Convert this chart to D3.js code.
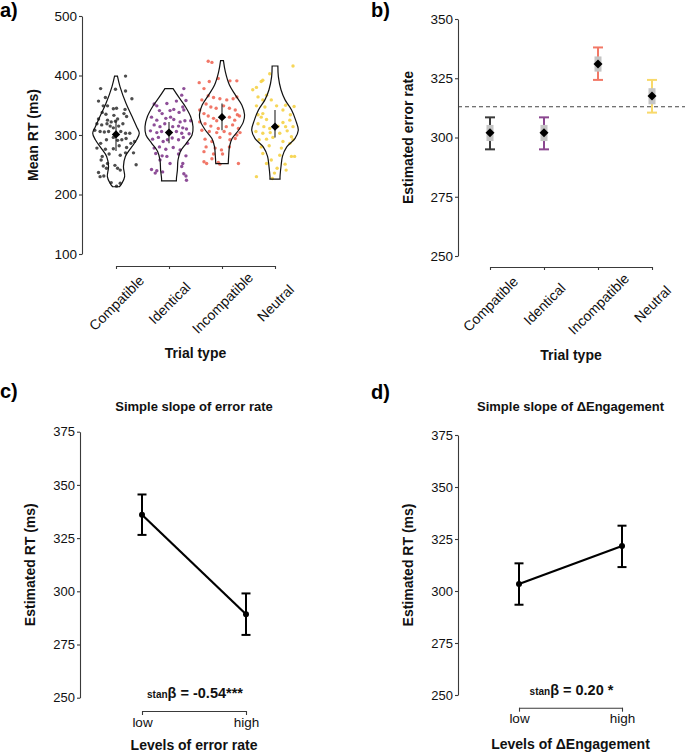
<!DOCTYPE html>
<html><head><meta charset="utf-8">
<script src="https://cdn.jsdelivr.net/npm/d3@7"></script>
<style>
html,body{margin:0;padding:0;background:#fff;}
svg{display:block;font-family:"Liberation Sans",Arial,Helvetica,sans-serif;}
</style></head>
<body>
<svg id="chart" width="685" height="755"></svg>
<script>
// ---------- DATA ----------
const categories = ["Compatible","Identical","Incompatible","Neutral"];

// Panel a: individual mean RTs (ms) with horizontal jitter (category units)
const compatibleRT = [399,378,363,357,377,374,349,349,344,345,338,335,333,327,325,322,323,327,336,361,343,331,319,317,319,315,312,315,319,308,306,305,306,306,303,303,286,292,296,291,292,294,286,289,278,276,277,282,279,264,268,266,270,270,258,252,248,249,244,250,244,237,230,231,241,220,214,219];
const compatibleJitter = [0.18,-0.29,-0.20,-0.33,-0.01,0.18,-0.24,-0.16,-0.05,0.01,-0.26,-0.19,-0.04,-0.33,-0.16,-0.09,-0.01,0.03,0.15,0.30,0.17,0.20,-0.36,-0.27,-0.17,-0.11,-0.05,0.05,0.13,-0.40,-0.30,-0.22,-0.14,0.09,0.18,0.26,-0.29,-0.18,-0.05,0.03,0.11,0.19,0.28,0.35,-0.36,-0.20,-0.05,0.06,0.20,-0.26,-0.13,0.08,0.18,0.33,-0.28,-0.16,-0.24,-0.02,-0.18,0.38,0.03,-0.33,-0.30,-0.23,0.08,-0.09,0.01,0.08];
const identicalRT = [378,367,352,349,353,357,358,347,341,336,341,343,338,342,330,325,328,330,326,322,324,324,317,314,319,314,315,312,310,307,304,306,306,303,302,293,296,289,292,295,292,296,286,278,280,276,279,275,269,265,264,268,265,258,252,252,242,236,240,238,247,235,224,231];
const identicalJitter = [0.28,0.24,-0.28,-0.23,-0.04,0.14,0.32,0.26,-0.18,-0.13,0.02,0.09,0.19,0.28,-0.33,-0.23,-0.06,0.03,0.09,0.21,0.30,0.41,-0.28,-0.17,-0.08,0.07,0.18,0.26,0.33,-0.35,-0.23,-0.14,0.14,0.24,0.38,-0.31,-0.20,-0.11,-0.03,0.06,0.18,0.27,0.35,-0.28,-0.18,-0.06,0.08,0.21,-0.25,-0.13,-0.04,0.18,0.32,-0.17,0.02,0.26,-0.33,-0.26,-0.23,-0.12,0.24,0.28,0.33,0.32];
const incompatibleRT = [424,422,390,395,391,391,388,378,366,363,361,359,361,364,359,352,347,345,349,345,342,334,342,336,332,328,324,330,325,332,322,319,315,311,314,317,311,308,306,304,306,302,300,304,293,289,296,292,294,280,278,275,280,272,268,268,255,260,254,251,252,252];
const incompatibleJitter = [-0.26,-0.19,-0.24,-0.07,0.15,0.28,-0.43,-0.34,-0.26,-0.16,-0.04,0.09,0.21,0.28,-0.38,-0.30,-0.21,-0.11,0.03,0.14,0.25,0.29,-0.42,-0.34,-0.26,-0.16,-0.10,0.14,0.24,0.33,-0.42,-0.32,-0.21,-0.07,0.08,0.20,0.31,-0.38,-0.24,-0.10,0.04,0.15,0.28,0.34,-0.32,-0.19,-0.04,0.15,0.25,-0.30,-0.13,-0.01,0.14,-0.34,-0.16,0.01,-0.34,-0.19,-0.07,-0.04,0.31,-0.29];
const neutralRT = [416,403,392,380,390,376,367,364,359,359,349,347,349,350,348,342,336,334,334,330,326,325,321,319,314,311,315,314,314,306,303,304,303,307,297,292,293,296,289,286,292,280,282,278,264,264,269,252,258,266,251,230,236,227,244,241];
const neutralJitter = [0.34,-0.10,-0.23,-0.35,-0.26,-0.42,-0.16,-0.32,-0.23,-0.07,-0.35,-0.19,0.03,0.20,0.36,0.15,-0.23,0.29,-0.32,-0.26,-0.16,0.28,0.15,-0.32,-0.21,-0.10,0.06,0.20,0.34,-0.36,-0.23,-0.09,0.09,0.23,0.31,-0.30,-0.16,-0.04,0.15,0.28,0.34,-0.26,-0.11,0.12,0.31,0.37,-0.23,-0.16,-0.07,0.09,0.19,-0.35,-0.01,-0.05,0.04,0.21];

// Panel a: violin outlines [RT, relative density]
const compatibleDensity = [[213,0.14],[219,0.25],[230,0.36],[247,0.31],[264,0.39],[278,0.62],[292,0.86],[303,0.97],[314,0.86],[331,0.67],[353,0.42],[381,0.17],[399,0.06]];
const identicalDensity = [[223,0.31],[227,0.31],[241,0.35],[258,0.375],[272,0.47],[286,0.72],[300,0.96],[314,1.0],[331,0.9],[348,0.68],[364,0.4],[378,0.17]];
const incompatibleDensity = [[252,0.26],[266,0.28],[280,0.31],[294,0.42],[308,0.69],[322,0.89],[334,0.94],[350,0.83],[367,0.56],[384,0.31],[406,0.14],[425,0.06]];
const neutralDensity = [[226,0.21],[230,0.21],[247,0.25],[264,0.31],[280,0.49],[294,0.83],[308,0.97],[325,0.86],[342,0.69],[359,0.42],[376,0.25],[398,0.14],[416,0.12]];

// Panel a: summary (mean and interval)
const rtMean = [301,304,330,314];
const rtLow = [273,286,308,296];
const rtHigh = [325,322,353,342];

// Panel b: estimated values per trial type
const errMean = [302,302,331,317.5];
const errCILow = [295,295,324.3,310.5];
const errCIHigh = [308.5,308.5,338,324.3];
const errSELow = [298.5,298.5,327.8,314];
const errSEHigh = [305.3,305.3,334.2,320.8];
const errReference = 313;

// Panels c and d
const levels = ["low","high"];
const slopeErrMean = [336,289.2];
const slopeErrLow = [326.5,279.5];
const slopeErrHigh = [345.5,299];
const slopeEngMean = [303.4,321.6];
const slopeEngLow = [293.4,311.5];
const slopeEngHigh = [313.3,331.4];

const yTicksA = [100,200,300,400,500];
const yTicksB = [250,275,300,325,350];
const yTicksCD = [250,275,300,325,350,375];

// ---------- STYLE ----------
const pointColors = ["#2e2e2e","#7a2f86","#ee5f4e","#f5cf3c"];
const barColors = ["#3a3a3a","#8b4790","#f27866","#f8d96b"];
const FONT = '"Liberation Sans",Arial,Helvetica,sans-serif';

const svg = d3.select("#chart");

function styleAxis(g, fs){
  g.select(".domain").attr("stroke","#3a3a3a").attr("stroke-width",1.1);
  g.selectAll(".tick line").attr("stroke","#3a3a3a").attr("stroke-width",1.1);
  g.selectAll(".tick text").attr("fill","#111").style("font-size",fs+"px").style("font-family",FONT);
}
function yAxis(scale, x, ticks, fs){
  const g = svg.append("g").attr("transform",`translate(${x},0)`)
    .call(d3.axisLeft(scale).tickValues(ticks).tickSize(3).tickSizeOuter(0).tickPadding(2));
  styleAxis(g, fs);
  return g;
}
function xAxisRot(scale, y, fs){
  const g = svg.append("g").attr("transform",`translate(0,${y})`)
    .call(d3.axisBottom(scale).tickSize(3).tickSizeOuter(0));
  styleAxis(g, fs);
  g.selectAll(".tick text").attr("y",0).attr("dy",0)
    .attr("text-anchor","middle").attr("dominant-baseline","central")
    .attr("transform","translate(0,37) rotate(-45)");
  return g;
}
function xAxisPlain(scale, y, fs){
  const g = svg.append("g").attr("transform",`translate(0,${y})`)
    .call(d3.axisBottom(scale).tickSize(4).tickSizeOuter(0));
  styleAxis(g, fs);
  g.selectAll(".tick text").attr("y",0).attr("dy",0)
    .attr("dominant-baseline","central").attr("transform","translate(0,11)");
  return g;
}
function label(x,y,txt,fs,rot){
  svg.append("text").attr("x",0).attr("y",0)
    .attr("transform",`translate(${x},${y})`+(rot?` rotate(${rot})`:""))
    .attr("text-anchor","middle").attr("dominant-baseline","central")
    .style("font-size",fs+"px").style("font-weight","bold").style("font-family",FONT)
    .attr("fill","#111").text(txt);
}
function panelLabel(x,y,txt){
  svg.append("text").attr("x",x).attr("y",y).style("font-size","20px").style("font-weight","bold")
    .style("font-family",FONT).attr("fill","#000").text(txt);
}
function diamond(g, cx, cy, r){
  g.append("path").attr("d",`M0,${-r}L${r},0L0,${r}L${-r},0Z`).attr("transform",`translate(${cx},${cy})`).attr("fill","#000");
}

// ---------- PANEL A ----------
const xa = d3.scalePoint().domain(categories).range([116,275]);
const ya = d3.scaleLinear().domain([100,500]).range([254,16]);
const stepA = xa.step();
const rtSets = [compatibleRT, identicalRT, incompatibleRT, neutralRT];
const jitSets = [compatibleJitter, identicalJitter, incompatibleJitter, neutralJitter];
const densSets = [compatibleDensity, identicalDensity, incompatibleDensity, neutralDensity];
const violinHalf = 24;
const ga = svg.append("g");
categories.forEach((c,i)=>{
  const cx = xa(c);
  const pts = rtSets[i].map((v,k)=>({v, j:jitSets[i][k]}));
  ga.append("g").selectAll("circle").data(pts).join("circle")
    .attr("cx",d=>cx + d.j*stepA).attr("cy",d=>ya(d.v)).attr("r",1.7)
    .attr("fill",pointColors[i]).attr("fill-opacity",0.85);
});
categories.forEach((c,i)=>{
  const cx = xa(c);
  const area = d3.area().curve(d3.curveCatmullRom.alpha(0.5))
    .y(d=>ya(d[0])).x0(d=>cx - violinHalf*d[1]).x1(d=>cx + violinHalf*d[1]);
  ga.append("path").attr("d",area(densSets[i])).attr("fill","none").attr("stroke","#111").attr("stroke-width",1.2);
  ga.append("line").attr("x1",cx).attr("x2",cx).attr("y1",ya(rtLow[i])).attr("y2",ya(rtHigh[i]))
    .attr("stroke","#222").attr("stroke-width",1.1);
  diamond(ga, cx, ya(rtMean[i]), 4.2);
});
yAxis(ya, 82, yTicksA, 13.5);
xAxisRot(xa, 266, 14);
label(33, 135, "Mean RT (ms)", 14, -90);
label(195.5, 353, "Trial type", 14);
panelLabel(0, 17, "a)");

// ---------- PANEL B ----------
const xb = d3.scalePoint().domain(categories).range([490,652]);
const yb = d3.scaleLinear().domain([250,350]).range([256,19]);
const gb = svg.append("g");
gb.append("line").attr("x1",458).attr("x2",685).attr("y1",yb(errReference)).attr("y2",yb(errReference))
  .attr("stroke","#444").attr("stroke-width",1.1).attr("stroke-dasharray","4,3");
categories.forEach((c,i)=>{
  const cx = xb(c);
  const col = barColors[i];
  gb.append("line").attr("x1",cx).attr("x2",cx).attr("y1",yb(errCILow[i])).attr("y2",yb(errCIHigh[i])).attr("stroke",col).attr("stroke-width",2);
  [errCILow[i],errCIHigh[i]].forEach(v=>{
    gb.append("line").attr("x1",cx-5).attr("x2",cx+5).attr("y1",yb(v)).attr("y2",yb(v)).attr("stroke",col).attr("stroke-width",2);
  });
  gb.append("rect").attr("x",cx-3.5).attr("width",7).attr("y",yb(errSEHigh[i]))
    .attr("height",yb(errSELow[i])-yb(errSEHigh[i])).attr("fill","#c4c4c4");
  diamond(gb, cx, yb(errMean[i]), 4.5);
});
yAxis(yb, 458, yTicksB, 13.5);
xAxisRot(xb, 267, 14);
label(408, 137.5, "Estimated error rate", 14, -90);
label(571, 355, "Trial type", 14);
panelLabel(371, 17, "b)");

// ---------- PANELS C & D ----------
function slopePanel(xRange, yRange, axisX, axisY, means, lows, highs, title, xTitle, yTitleX, titleY, xTitleY, annoY, annoVal){
  const x = d3.scalePoint().domain(levels).range(xRange);
  const y = d3.scaleLinear().domain([250,375]).range(yRange);
  const g = svg.append("g");
  const data = levels.map((l,i)=>({l, m:means[i], lo:lows[i], hi:highs[i]}));
  data.forEach(d=>{
    const cx = x(d.l);
    g.append("line").attr("x1",cx).attr("x2",cx).attr("y1",y(d.lo)).attr("y2",y(d.hi)).attr("stroke","#000").attr("stroke-width",2);
    [d.lo,d.hi].forEach(v=>g.append("line").attr("x1",cx-4.5).attr("x2",cx+4.5).attr("y1",y(v)).attr("y2",y(v)).attr("stroke","#000").attr("stroke-width",2));
  });
  g.append("path").datum(data).attr("d",d3.line().x(d=>x(d.l)).y(d=>y(d.m)))
    .attr("fill","none").attr("stroke","#000").attr("stroke-width",2.2);
  g.selectAll("circle").data(data).join("circle").attr("cx",d=>x(d.l)).attr("cy",d=>y(d.m)).attr("r",3).attr("fill","#000");
  yAxis(y, axisX, yTicksCD, 13);
  xAxisPlain(x, axisY, 13.5);
  const mid = (xRange[0]+xRange[1])/2;
  label(yTitleX, (yRange[0]+yRange[1])/2, "Estimated RT (ms)", 14, -90);
  label(mid, titleY, title, 13);
  label(mid, xTitleY, xTitle, 14);
  const t = svg.append("text").attr("x",mid+1).attr("y",annoY).attr("text-anchor","middle")
    .style("font-family",FONT).style("font-weight","bold").attr("fill","#111");
  t.append("tspan").style("font-size","10px").text("stan");
  t.append("tspan").style("font-size","14.5px").text(annoVal);
}
slopePanel([142,246],[697.7,431.7],80,711,slopeErrMean,slopeErrLow,slopeErrHigh,
  "Simple slope of error rate","Levels of error rate",30,406,745,698,"β = -0.54***");
slopePanel([519,622],[695,435],458,707.7,slopeEngMean,slopeEngLow,slopeEngHigh,
  "Simple slope of ΔEngagement","Levels of ΔEngagement",407.5,406.7,744,695,"β = 0.20 *");
panelLabel(0, 398, "c)");
panelLabel(371, 399, "d)");
</script>
</body></html>
